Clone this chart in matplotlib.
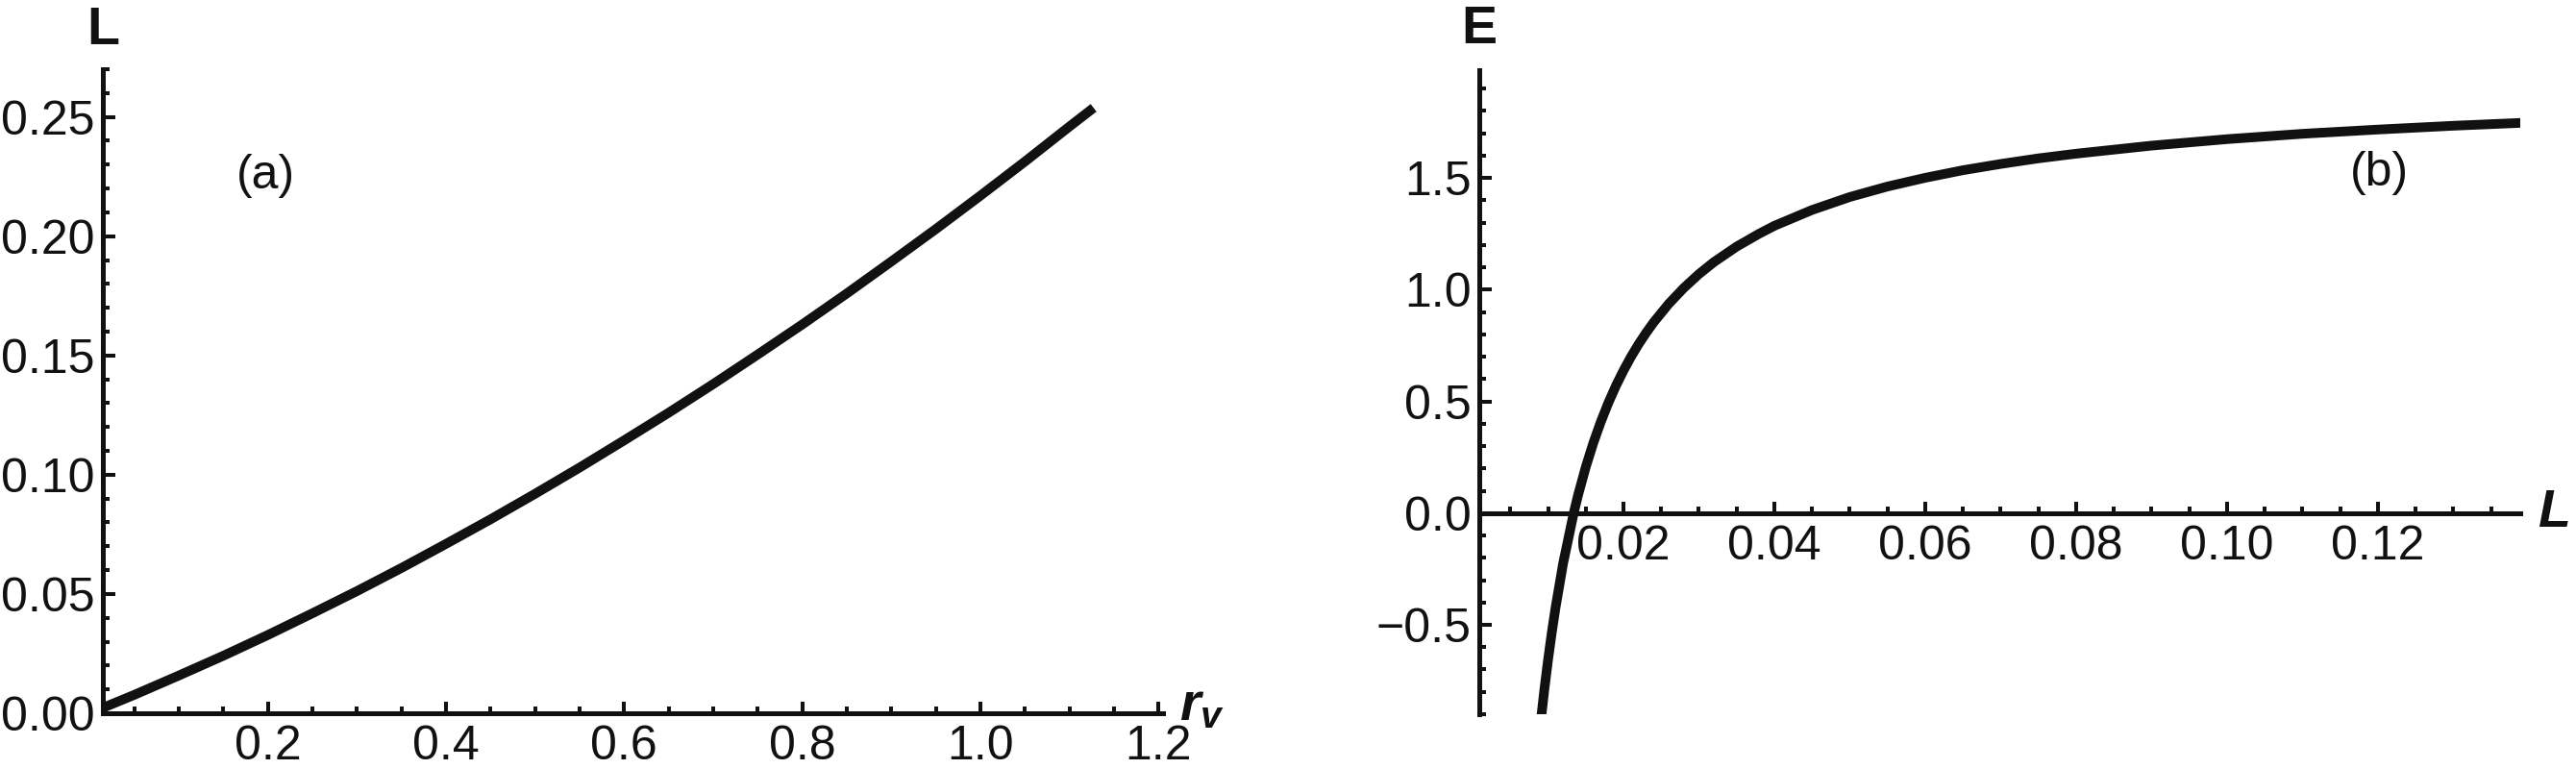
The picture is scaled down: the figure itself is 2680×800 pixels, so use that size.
import numpy as np
import matplotlib
matplotlib.use("Agg")
import matplotlib.pyplot as plt
from matplotlib.ticker import MultipleLocator, FormatStrFormatter

# panel (a): L against r_v
r_v = [0.0, 0.05, 0.1, 0.15, 0.2, 0.25, 0.3, 0.35, 0.4, 0.45, 0.5, 0.55,
       0.6, 0.65, 0.7, 0.75, 0.8, 0.85, 0.9, 0.95, 1.0, 1.05, 1.1, 1.127]
L_a = [0.0, 0.0077, 0.0158, 0.0241, 0.0328, 0.0419, 0.0512, 0.0609,
       0.0710, 0.0813, 0.0920, 0.1030, 0.1144, 0.1260, 0.1380, 0.1504,
       0.1630, 0.1760, 0.1894, 0.2030, 0.2170, 0.2313, 0.2460, 0.2538]

# panel (b): E against L
L_b = [0.0091, 0.0095, 0.0100, 0.0105, 0.0110, 0.0120, 0.0134, 0.0140,
       0.0150, 0.0160, 0.0170, 0.0180, 0.0190, 0.0200, 0.0210, 0.0220,
       0.0230, 0.0240, 0.0260, 0.0280, 0.0300, 0.0320, 0.0350, 0.0380,
       0.0400, 0.0450, 0.0500, 0.0550, 0.0600, 0.0650, 0.0700, 0.0750,
       0.0800, 0.0900, 0.1000, 0.1100, 0.1200, 0.1300, 0.1390]
E_b = [-0.913, -0.793, -0.657, -0.534, -0.422, -0.225, 0.000, 0.083,
       0.206, 0.314, 0.409, 0.494, 0.570, 0.638, 0.700, 0.756,
       0.807, 0.854, 0.937, 1.008, 1.070, 1.124, 1.193, 1.251,
       1.286, 1.357, 1.415, 1.462, 1.501, 1.535, 1.563, 1.588,
       1.609, 1.645, 1.674, 1.698, 1.717, 1.734, 1.747]

INK = '#111111'

plt.rcParams['font.family'] = ['Liberation Sans', 'DejaVu Sans']
plt.rcParams['mathtext.fontset'] = 'custom'
plt.rcParams['mathtext.rm'] = 'Liberation Sans'
plt.rcParams['mathtext.it'] = 'Liberation Sans:italic:bold'
plt.rcParams['mathtext.bf'] = 'Liberation Sans:bold'


def style_axes(ax):
    for side in ('top', 'right'):
        ax.spines[side].set_visible(False)
    for side in ('left', 'bottom'):
        ax.spines[side].set_linewidth(3.6)
        ax.spines[side].set_color(INK)
    ax.tick_params(which='both', direction='in', color=INK, width=2.9,
                   labelsize=36, labelcolor=INK)
    ax.tick_params(which='major', length=9)
    ax.tick_params(which='minor', length=5)
    ax.tick_params(axis='y', pad=6)
    ax.tick_params(axis='x', pad=9)


def panel_a(ax):
    ax.plot(r_v, L_a, color=INK, lw=7.2, solid_capstyle='butt')
    ax.set_xlim(0.0147, 1.205)
    ax.set_ylim(0, 0.27)
    style_axes(ax)
    ax.xaxis.set_minor_locator(MultipleLocator(0.05))
    ax.yaxis.set_major_locator(MultipleLocator(0.05))
    ax.yaxis.set_minor_locator(MultipleLocator(0.01))
    ax.set_xticks([0.2, 0.4, 0.6, 0.8, 1.0, 1.2])
    ax.xaxis.set_major_formatter(FormatStrFormatter('%.1f'))
    ax.yaxis.set_major_formatter(FormatStrFormatter('%.2f'))
    ax.annotate('L', xy=(0, 1), xycoords='axes fraction', xytext=(0, 19),
                textcoords='offset points', ha='center', va='baseline',
                fontsize=40, fontweight='bold', color=INK)
    ax.annotate('$r_v$', xy=(1, 0), xycoords='axes fraction', xytext=(12, 5),
                textcoords='offset points', ha='left', va='center',
                fontsize=40, color=INK)
    ax.text(0.154, 0.835, '(a)', transform=ax.transAxes, fontsize=36,
            ha='center', va='center', color=INK)


def panel_b(ax):
    ax.plot(L_b, E_b, color=INK, lw=7.2, solid_capstyle='butt')
    ax.set_xlim(0.0009, 0.1389)
    ax.set_ylim(-0.90, 1.983)
    style_axes(ax)
    ax.spines['bottom'].set_position(('data', 0))
    ax.xaxis.set_minor_locator(MultipleLocator(0.005))
    ax.yaxis.set_minor_locator(MultipleLocator(0.1))
    ax.set_xticks([0.02, 0.04, 0.06, 0.08, 0.10, 0.12])
    ax.set_yticks([-0.5, 0.0, 0.5, 1.0, 1.5])
    ax.xaxis.set_major_formatter(FormatStrFormatter('%.2f'))
    ax.yaxis.set_major_formatter(
        plt.FuncFormatter(lambda v, p: f'{v:.1f}'.replace('-', '\u2212')))
    ax.annotate('E', xy=(0, 1), xycoords='axes fraction', xytext=(0, 20),
                textcoords='offset points', ha='center', va='baseline',
                fontsize=40, fontweight='bold', color=INK)
    ax.annotate('$L$', xy=(1, 0), xycoords=('axes fraction', 'data'),
                xytext=(13, 0), textcoords='offset points', ha='left',
                va='center', fontsize=40, color=INK)
    ax.text(0.865, 0.84, '(b)', transform=ax.transAxes, fontsize=36,
            ha='center', va='center', color=INK)


def main():
    fig = plt.figure(figsize=(26.8, 8), dpi=100)
    ax_a = fig.add_axes([0.0399, 0.0725, 0.4116, 0.8375])
    ax_b = fig.add_axes([0.5743, 0.0713, 0.4041, 0.8375])
    panel_a(ax_a)
    panel_b(ax_b)
    fig.savefig('out.png', dpi=100, facecolor='white')


if __name__ == "__main__":
    main()
